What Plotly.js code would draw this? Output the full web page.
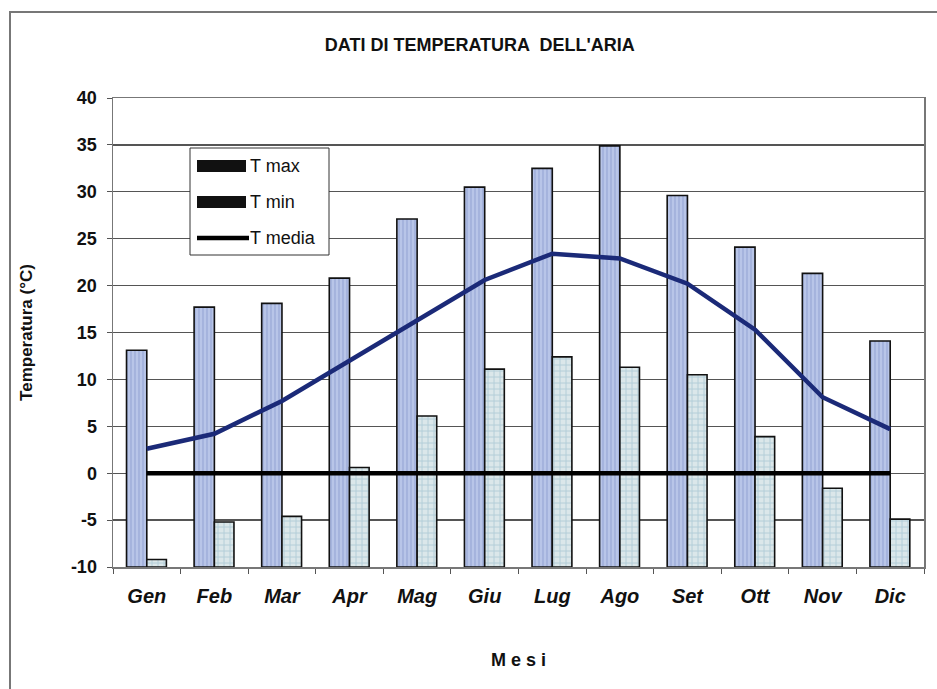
<!DOCTYPE html>
<html>
<head>
<meta charset="utf-8">
<script src="https://cdn.plot.ly/plotly-3.0.1.min.js"></script>
<style>
  html, body { margin: 0; padding: 0; background: #fff; }
  #chart { width: 937px; height: 689px; }
</style>
</head>
<body>
<div id="chart"></div>
<script>
// ---- data ----
const months = ["Gen", "Feb", "Mar", "Apr", "Mag", "Giu", "Lug", "Ago", "Set", "Ott", "Nov", "Dic"];
const tMax   = [13.1, 17.7, 18.1, 20.8, 27.1, 30.5, 32.5, 34.9, 29.6, 24.1, 21.3, 14.1];
const tMin   = [-9.2, -5.2, -4.6, 0.6, 6.1, 11.1, 12.4, 11.3, 10.5, 3.9, -1.6, -4.9];
const tMedia = [2.6, 4.2, 7.7, 12.0, 16.4, 20.6, 23.4, 22.9, 20.2, 15.3, 8.1, 4.7];
const zeroLine = [0, 0, 0, 0, 0, 0, 0, 0, 0, 0, 0, 0];
const yTicks = [-10, -5, 0, 5, 10, 15, 20, 25, 30, 35, 40];
const yBase = -10;
const legendNames = ["T max", "T min", "T media"];

// ---- traces ----
const traceMax = {
  type: "bar", name: "T max", x: months,
  y: tMax.map(v => v - yBase), base: yBase,
  offset: -0.3, width: 0.3,
  marker: {
    color: "#aebbe0",
    line: { color: "#111", width: 1.6 },
    pattern: { shape: "|", fgcolor: "#98a8d6", bgcolor: "#b8c5e8", size: 4, solidity: 0.3, fillmode: "replace" }
  },
  showlegend: false, hoverinfo: "x+name"
};
const traceMin = {
  type: "bar", name: "T min", x: months,
  y: tMin.map(v => v - yBase), base: yBase,
  offset: 0, width: 0.29,
  marker: {
    color: "#d3e2e8",
    line: { color: "#111", width: 1.6 },
    pattern: { shape: "+", fgcolor: "#b2cdd8", bgcolor: "#dbe7ea", size: 6, solidity: 0.3, fillmode: "replace" }
  },
  showlegend: false, hoverinfo: "x+name"
};
const traceZero = {
  type: "scatter", mode: "lines", x: months, y: zeroLine,
  line: { color: "#000", width: 4.5 }, showlegend: false, hoverinfo: "skip"
};
const traceMedia = {
  type: "scatter", mode: "lines", name: "T media", x: months, y: tMedia,
  line: { color: "#1b2a78", width: 4.5 }, showlegend: false
};

// ---- manual legend (swatches as in the reference) ----
const px = v => (v - 113) / 811;
const py = v => (567 - v) / 469;
const shapes = [
  { type: "rect", xref: "paper", yref: "paper", x0: px(190), x1: px(329), y0: py(255), y1: py(148),
    line: { color: "#333", width: 1 }, fillcolor: "#fff", layer: "above" },
  { type: "rect", xref: "paper", yref: "paper", x0: px(197), x1: px(246), y0: py(172), y1: py(160),
    line: { width: 0 }, fillcolor: "#111", layer: "above" },
  { type: "rect", xref: "paper", yref: "paper", x0: px(197), x1: px(246), y0: py(208), y1: py(196),
    line: { width: 0 }, fillcolor: "#111", layer: "above" },
  { type: "line", xref: "paper", yref: "paper", x0: px(197), x1: px(249), y0: py(238), y1: py(238),
    line: { color: "#000", width: 4.5 }, layer: "above" },
  // outer frame of the chart
  { type: "rect", xref: "paper", yref: "paper", x0: px(10), x1: px(960), y0: py(720), y1: py(12),
    line: { color: "#777", width: 2 }, fillcolor: "rgba(0,0,0,0)" }
];
const legendY = [166, 202, 238];
const annotations = legendNames.map((t, i) => ({
  xref: "paper", yref: "paper", x: px(248), y: py(legendY[i]),
  xanchor: "left", yanchor: "middle", showarrow: false, text: t,
  font: { family: "Liberation Sans, Arial, sans-serif", size: 18, color: "#111" }
}));

const layout = {
  width: 937, height: 689,
  margin: { l: 113, r: 13, t: 98, b: 122 },
  paper_bgcolor: "#fff", plot_bgcolor: "#fff",
  barmode: "overlay",
  showlegend: false,
  title: {
    text: "<b>DATI DI TEMPERATURA  DELL'ARIA</b>",
    x: 0.512, xanchor: "center", y: 0.935, yanchor: "middle",
    font: { family: "Liberation Sans, Arial, sans-serif", size: 18, color: "#111" }
  },
  xaxis: {
    type: "category",
    categoryorder: "array", categoryarray: months,
    range: [-0.5, 11.5],
    ticks: "outside", tickson: "boundaries", ticklen: 5, tickcolor: "#555",
    ticklabelstandoff: 10,
    showline: true, linecolor: "#777", linewidth: 1.5, mirror: true,
    showgrid: false, zeroline: false,
    tickfont: { family: "Liberation Sans, Arial, sans-serif", size: 20, color: "#111", weight: "bold", style: "italic" },
    title: {
      text: "<b>M e s i</b>",
      standoff: 48,
      font: { family: "Liberation Sans, Arial, sans-serif", size: 18, color: "#111" }
    }
  },
  yaxis: {
    range: [-10, 40],
    tickmode: "array", tickvals: yTicks, ticktext: yTicks.map(v => "<b>" + String(v) + "</b>"),
    ticks: "outside", ticklen: 5, tickcolor: "#555",
    ticklabelstandoff: 6,
    showline: true, linecolor: "#777", linewidth: 1.5, mirror: true,
    showgrid: true, gridcolor: "#555", gridwidth: 1.3,
    zeroline: false,
    tickfont: { family: "Liberation Sans, Arial, sans-serif", size: 18, color: "#111" },
    title: {
      text: "<b>Temperatura (°C)</b>",
      standoff: 34,
      font: { family: "Liberation Sans, Arial, sans-serif", size: 17, color: "#111" }
    }
  },
  shapes: shapes,
  annotations: annotations
};

Plotly.newPlot("chart", [traceMax, traceMin, traceZero, traceMedia], layout, { displayModeBar: false, staticPlot: true });
</script>
</body>
</html>
